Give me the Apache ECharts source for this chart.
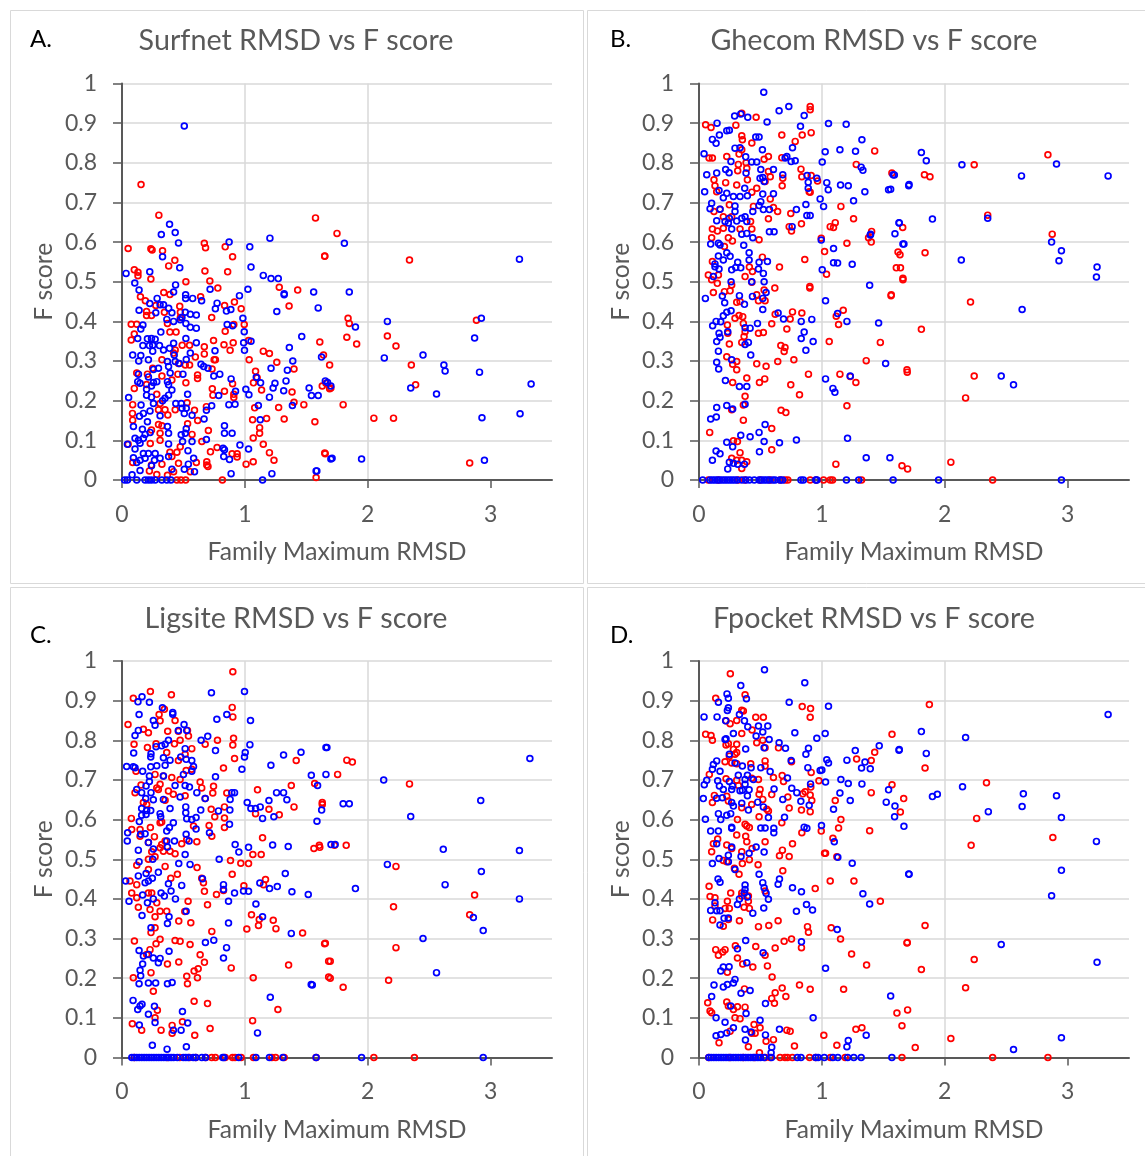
<!DOCTYPE html>
<html><head><meta charset="utf-8">
<style>html,body{margin:0;padding:0;background:#fff}#c{width:1145px;height:1156px}</style>
<script src="https://cdn.jsdelivr.net/npm/echarts@6/dist/echarts.min.js"></script>
</head><body><div id="c"></div>
<script>
const titles=['Surfnet RMSD vs F score','Ghecom RMSD vs F score','Ligsite RMSD vs F score','Fpocket RMSD vs F score'];
const letters=['A.','B.','C.','D.'];
const xTicks=[0,1,2,3];
const xName='Family Maximum RMSD', yName='F score';

const surfnetRed=[[.155,.745],[.30,.668],[1.575,.661],[.67,.597],[.68,.586],[.84,.588],[.05,.584],[.235,.583],[.245,.58],[.33,.578],[.90,.563],[1.65,.564],[.43,.554],[.38,.54],[.10,.53],[.13,.524],[.13,.515],[.675,.527],[.86,.525],[.235,.507],[.52,.50],[.715,.502],[.78,.484],[.34,.473],[.39,.468],[1.28,.486],[1.43,.479],[.15,.462],[.19,.452],[.64,.462],[.915,.449],[.835,.44],[.97,.432],[1.36,.439],[.47,.438],[.20,.425],[.20,.415],[.24,.415],[.275,.44],[.345,.423],[.475,.423],[.475,.41],[.73,.41],[.075,.393],[.12,.393],[.37,.395],[.10,.368],[.075,.353],[.39,.373],[.44,.373],[.84,.375],[.995,.392],[.91,.392],[.745,.352],[1.61,.348],[.49,.34],[.55,.34],[.83,.341],[.905,.346],[1.03,.352],[.67,.336],[.67,.318],[.88,.327],[1.15,.325],[1.20,.319],[1.64,.315],[.75,.303],[.76,.303],[1.035,.303],[1.26,.297],[1.69,.29],[1.40,.28],[.12,.27],[1.087,.274],[.207,.267],[.25,.282],[.325,.303],[.42,.32],[.433,.328],[.46,.294],[.515,.29],[.55,.29],[.597,.31],[.733,.28],[.455,.267],[.325,.262],[.615,.265],[.615,.256],[1.10,.258],[1.66,.244],[1.69,.23],[.52,.245],[.406,.252],[.10,.231],[.20,.241],[.735,.23],[.74,.214],[.834,.224],[.90,.243],[.91,.216],[.91,.208],[1.07,.245],[1.136,.227],[1.384,.222],[1.40,.196],[1.48,.19],[1.08,.182],[1.275,.183],[.087,.19],[.283,.216],[.31,.193],[.53,.195],[.687,.185],[.59,.176],[.297,.177],[.35,.177],[.085,.168],[.087,.151],[.433,.177],[.373,.164],[.616,.15],[1.063,.152],[1.177,.155],[1.32,.154],[1.57,.147],[.534,.142],[.297,.14],[.325,.137],[.24,.126],[.703,.125],[1.12,.132],[1.12,.118],[.57,.115],[1.068,.106],[.31,.118],[.31,.10],[.23,.092],[.65,.097],[1.15,.09],[.05,.09],[.774,.082],[.474,.084],[.447,.07],[.39,.07],[.406,.059],[.72,.071],[1.20,.069],[1.654,.066],[.896,.066],[.937,.066],[.937,.058],[1.237,.05],[1.068,.046],[1.01,.04],[.087,.044],[.46,.042],[.605,.044],[.69,.046],[.69,.038],[.70,.034],[.24,.038],[.325,.04],[.223,.023],[.42,.021],[.556,.021],[.283,.014],[.37,.012],[1.58,.006],[1.75,.622],[1.65,.565],[2.34,.555],[1.84,.408],[1.85,.395],[1.83,.36],[1.91,.343],[2.16,.363],[2.23,.338],[2.355,.29],[2.39,.24],[1.80,.19],[2.05,.156],[2.21,.156],[2.83,.043],[2.885,.403],[1.65,.068],[1.63,.237],[1.70,.232]];
const surfnetRedZero=[.817,.447,.48,.518];
const surfnetBlue=[[.507,.893],[.387,.645],[.433,.624],[.32,.619],[.46,.598],[.33,.563],[.47,.535],[.872,.60],[1.04,.588],[1.204,.61],[1.05,.537],[.033,.521],[.226,.525],[.104,.497],[.139,.479],[.436,.492],[.42,.474],[1.15,.516],[1.213,.508],[1.272,.508],[.717,.481],[1.025,.481],[.518,.467],[.518,.458],[.575,.458],[.648,.452],[.286,.458],[.226,.445],[.139,.428],[.31,.442],[.338,.442],[.38,.433],[.406,.422],[.275,.422],[.956,.465],[.774,.446],[.76,.432],[.85,.426],[.886,.43],[1.32,.47],[1.32,.467],[1.56,.474],[1.597,.434],[1.26,.425],[.515,.423],[.556,.418],[.605,.416],[.488,.41],[.474,.404],[.365,.405],[.42,.40],[.984,.408],[.52,.395],[.856,.392],[.90,.389],[.556,.385],[.605,.383],[.17,.391],[.153,.381],[.316,.373],[.995,.374],[1.463,.362],[.52,.357],[.207,.356],[.24,.357],[.27,.355],[.128,.357],[.17,.339],[.223,.339],[.25,.34],[.305,.339],[.42,.345],[.605,.346],[.99,.346],[1.05,.35],[.997,.327],[1.362,.334],[.25,.325],[.387,.332],[.338,.328],[.556,.32],[.757,.326],[.087,.315],[.153,.314],[.425,.315],[.136,.30],[.215,.303],[.37,.299],[.433,.299],[.466,.294],[.523,.304],[1.624,.31],[1.39,.30],[.643,.292],[.665,.286],[.70,.282],[.297,.282],[.256,.279],[.379,.286],[.392,.27],[.134,.267],[1.213,.282],[1.346,.277],[.496,.267],[.796,.267],[.747,.262],[.215,.26],[.888,.255],[1.093,.259],[1.128,.245],[1.335,.25],[1.673,.246],[.128,.248],[.147,.244],[.256,.246],[.283,.248],[.37,.248],[.379,.24],[1.245,.244],[1.23,.232],[1.008,.229],[1.033,.215],[.924,.224],[1.316,.225],[1.523,.232],[1.542,.213],[1.597,.213],[.20,.229],[.24,.237],[.534,.216],[.406,.227],[.20,.214],[.24,.209],[.054,.208],[.787,.213],[1.20,.209],[.379,.214],[.35,.206],[.33,.20],[.256,.193],[.155,.189],[.438,.193],[.482,.193],[.73,.187],[.87,.19],[.92,.191],[1.11,.188],[1.387,.188],[.488,.181],[.523,.181],[.507,.168],[.174,.168],[.228,.174],[.142,.161],[.31,.162],[.57,.163],[.687,.176],[.668,.154],[1.125,.152],[.093,.135],[.207,.147],[.37,.135],[.379,.118],[.523,.129],[.515,.118],[.482,.114],[.834,.137],[.834,.118],[.896,.118],[.166,.128],[.229,.12],[.106,.105],[.134,.10],[.174,.105],[.188,.115],[.493,.097],[.57,.097],[.687,.102],[.044,.09],[.147,.093],[.379,.091],[.96,.088],[1.03,.078],[.537,.074],[.823,.08],[.834,.076],[.106,.078],[.174,.067],[.215,.067],[.093,.056],[.27,.067],[.31,.055],[.379,.059],[.828,.059],[.875,.052],[.583,.055],[.147,.05],[.188,.055],[.12,.044],[.264,.05],[1.70,.053],[.54,.04],[.507,.027],[.24,.036],[.406,.027],[.147,.024],[.59,.021],[.888,.016],[1.22,.016],[1.586,.023],[.082,.013],[1.81,.597],[1.85,.474],[1.90,.386],[2.16,.40],[2.135,.308],[2.45,.315],[2.62,.29],[2.63,.275],[2.35,.232],[2.56,.217],[2.91,.272],[2.925,.408],[3.235,.557],[3.33,.242],[3.24,.167],[2.93,.157],[2.95,.05],[1.95,.053],[1.71,.055],[1.655,.25],[1.70,.237],[1.58,.023],[2.87,.358]];
const surfnetBlueZero=[.022,.044,.12,.188,.215,.24,.27,.324,.365,.398,1.144];

const ghecomRed=[[.905,.942],[.905,.934],[.348,.925],[.465,.915],[.054,.896],[.098,.889],[.30,.895],[.913,.876],[.674,.87],[.84,.87],[.348,.868],[.353,.858],[.43,.85],[.783,.854],[1.43,.83],[.226,.816],[.326,.822],[.348,.833],[.082,.812],[.109,.812],[.565,.816],[.53,.809],[.674,.813],[.383,.80],[.32,.796],[.315,.78],[.389,.786],[1.28,.796],[1.57,.774],[.83,.784],[.837,.765],[.565,.778],[.58,.765],[.682,.761],[.677,.742],[.122,.757],[.13,.742],[.217,.75],[.307,.744],[.394,.757],[.47,.736],[.538,.753],[.913,.768],[.965,.754],[.897,.727],[.905,.726],[.43,.726],[.144,.727],[.58,.709],[.247,.694],[.122,.677],[.443,.69],[.606,.687],[.64,.677],[1.155,.69],[.747,.672],[.171,.683],[.198,.664],[.266,.664],[.565,.659],[1.258,.659],[1.109,.649],[.834,.646],[1.068,.639],[1.095,.637],[.42,.652],[.43,.633],[.734,.639],[.753,.628],[1.658,.637],[.109,.633],[.15,.628],[.198,.635],[.334,.633],[.103,.611],[.239,.611],[.272,.603],[.489,.606],[.995,.61],[1.38,.611],[1.405,.627],[1.402,.60],[1.204,.597],[.207,.589],[1.022,.576],[1.636,.568],[.109,.551],[.516,.562],[.861,.556],[.41,.537],[.435,.526],[.655,.537],[1.606,.535],[.076,.517],[.103,.505],[.149,.496],[.158,.517],[1.038,.519],[.375,.513],[1.66,.509],[.266,.492],[.253,.477],[.43,.499],[.902,.488],[.902,.484],[.53,.479],[.617,.484],[.117,.473],[.207,.475],[1.563,.465],[.307,.448],[.334,.45],[.47,.467],[.484,.452],[.538,.452],[.62,.418],[.761,.424],[.837,.421],[1.174,.428],[1.117,.413],[1.136,.392],[.293,.408],[.326,.415],[.356,.412],[.742,.406],[.361,.395],[.592,.394],[.231,.391],[.715,.381],[.375,.374],[.367,.362],[.524,.372],[.484,.37],[.234,.37],[.247,.343],[.348,.347],[1.06,.349],[1.476,.347],[.666,.339],[.70,.334],[.693,.324],[.226,.311],[.307,.299],[.274,.292],[.307,.278],[.772,.303],[.641,.299],[.47,.293],[.546,.287],[1.361,.301],[1.693,.278],[.891,.267],[1.147,.267],[.389,.257],[.274,.246],[.535,.255],[.492,.246],[.747,.24],[.818,.215],[1.277,.246],[1.231,.261],[.375,.211],[.361,.189],[1.204,.187],[.668,.176],[.707,.17],[.266,.177],[.361,.151],[.087,.12],[.592,.13],[.28,.099],[.313,.097],[.592,.076],[.334,.069],[.266,.055],[.307,.05],[.348,.05],[.389,.046],[.348,.029],[1.114,.04],[1.652,.036],[1.698,.028],[2.84,.82],[2.24,.795],[2.35,.668],[2.875,.62],[2.21,.449],[2.24,.262],[2.17,.207],[2.05,.045],[1.835,.77],[1.88,.765],[1.84,.573],[1.81,.38],[1.695,.272],[1.62,.575],[1.64,.535],[1.66,.505],[1.565,.467]];
const ghecomRedZero=[.076,.158,.32,.375,.497,.579,.66,.70,.723,.905,.954,1.014,1.068,1.087,1.323,2.39];
const ghecomBlue=[[.527,.978],[.731,.942],[.652,.931],[.856,.919],[.29,.918],[.34,.923],[.397,.915],[.147,.90],[.554,.903],[1.054,.899],[1.198,.897],[.826,.892],[.226,.881],[.247,.882],[.166,.87],[.109,.859],[.139,.849],[.462,.865],[.489,.865],[1.326,.858],[.293,.837],[.334,.838],[.516,.833],[.761,.838],[1.147,.833],[1.274,.829],[1.027,.828],[.041,.823],[.38,.815],[.715,.816],[.701,.812],[.75,.803],[.783,.805],[.26,.803],[.429,.802],[.47,.802],[1.003,.802],[1.32,.789],[1.334,.781],[.503,.783],[.606,.783],[.217,.783],[.245,.775],[.383,.774],[.144,.774],[.063,.77],[.682,.77],[1.59,.769],[.519,.763],[.497,.761],[.53,.753],[.88,.768],[.959,.761],[.889,.751],[.889,.736],[1.04,.75],[1.052,.732],[1.152,.744],[1.215,.742],[1.707,.742],[.372,.736],[.163,.73],[.046,.727],[1.543,.732],[1.35,.727],[.606,.722],[.519,.721],[.226,.723],[.198,.712],[.28,.715],[.334,.715],[.394,.717],[.986,.709],[1.258,.704],[.103,.698],[.09,.684],[.503,.702],[.489,.692],[.87,.695],[.793,.682],[.293,.691],[.293,.677],[1.014,.69],[.524,.682],[.573,.682],[.438,.677],[.878,.667],[.905,.667],[.171,.683],[.247,.66],[.375,.664],[.348,.66],[.307,.653],[.144,.654],[.212,.652],[.239,.648],[.266,.633],[.389,.652],[1.628,.649],[1.595,.621],[.758,.639],[.348,.62],[.389,.622],[.438,.611],[.573,.626],[.611,.626],[1.397,.62],[1.394,.618],[.995,.605],[.095,.595],[.158,.597],[.171,.593],[.364,.592],[1.668,.595],[1.095,.584],[.226,.573],[.408,.573],[.158,.565],[.253,.564],[.198,.555],[.408,.555],[.13,.545],[.557,.551],[.489,.549],[.315,.549],[1.095,.548],[1.128,.547],[1.247,.544],[.13,.538],[.163,.532],[.266,.53],[.299,.536],[.34,.535],[.484,.532],[1.003,.53],[.524,.521],[.117,.513],[.261,.50],[.53,.50],[.429,.50],[1.389,.491],[.546,.473],[.052,.458],[.19,.464],[.329,.465],[.435,.463],[.519,.458],[1.03,.452],[.209,.447],[.37,.443],[.519,.43],[.261,.427],[.226,.423],[.198,.414],[.644,.421],[.688,.406],[1.128,.42],[.177,.399],[.139,.40],[.476,.395],[.832,.40],[.918,.405],[1.204,.40],[1.462,.396],[.111,.389],[.375,.384],[.416,.383],[.234,.374],[.163,.37],[.856,.373],[.832,.357],[.171,.36],[.144,.349],[.402,.347],[.375,.342],[.929,.349],[.158,.325],[.87,.327],[.421,.315],[.266,.303],[.144,.297],[.16,.28],[1.519,.294],[.215,.251],[1.03,.255],[1.231,.262],[.329,.236],[.389,.236],[1.09,.231],[1.106,.221],[.375,.191],[.144,.183],[.226,.188],[.274,.179],[.141,.159],[.095,.154],[.538,.14],[.489,.12],[.416,.109],[.34,.113],[1.209,.105],[.226,.095],[.53,.097],[.655,.094],[.793,.101],[.274,.084],[.139,.073],[.171,.066],[.109,.05],[.492,.071],[1.361,.056],[1.554,.056],[.247,.045],[.28,.042],[.315,.04],[.37,.04],[.234,.028],[2.14,.795],[2.625,.767],[2.91,.797],[3.33,.767],[2.35,.66],[2.87,.60],[2.95,.578],[2.93,.553],[3.24,.537],[3.235,.512],[2.135,.555],[2.63,.43],[2.46,.262],[2.56,.24],[1.90,.658],[1.81,.826],[1.85,.805],[1.71,.745],[1.63,.648],[1.66,.595],[1.56,.733],[1.58,.77]];
const ghecomBlueZero=[.03,.09,.11,.13,.15,.17,.19,.21,.23,.25,.27,.29,.31,.35,.38,.41,.45,.49,.51,.53,.55,.57,.6,.62,.66,.68,.83,.85,.95,.96,1.2,1.3,1.58,1.95,2.95];

const ligsiteRed=[[.902,.973],[.231,.923],[.092,.906],[.402,.915],[.897,.883],[.902,.859],[.345,.878],[.302,.865],[.432,.85],[.049,.84],[.31,.849],[.533,.825],[.459,.823],[.372,.823],[.174,.828],[.215,.819],[.908,.805],[.902,.788],[.541,.811],[.473,.80],[.777,.80],[.677,.79],[.098,.79],[.427,.791],[.277,.791],[.207,.782],[.568,.779],[.364,.769],[.459,.749],[.514,.765],[.916,.754],[1.418,.749],[1.755,.714],[.826,.73],[.522,.724],[.568,.727],[.114,.722],[.269,.714],[.337,.71],[.405,.706],[.473,.701],[.155,.687],[.31,.689],[.296,.676],[.283,.68],[.106,.668],[.636,.695],[.649,.68],[.745,.684],[.739,.667],[1.378,.686],[1.103,.675],[1.568,.691],[.853,.667],[.174,.643],[.201,.638],[.351,.649],[.418,.664],[.514,.66],[.378,.672],[.677,.653],[1.63,.643],[1.4,.632],[.834,.632],[.726,.626],[1.196,.626],[1.087,.615],[1.28,.612],[.076,.603],[.755,.607],[.834,.604],[.31,.592],[.323,.594],[.231,.58],[.079,.575],[.147,.575],[.709,.585],[.834,.58],[.582,.584],[.731,.558],[.264,.557],[.147,.558],[.527,.55],[.609,.544],[1.144,.554],[.215,.542],[.323,.537],[.351,.546],[.486,.539],[1.606,.535],[1.562,.527],[.31,.529],[.391,.52],[.242,.519],[.337,.52],[.432,.514],[.269,.506],[1.065,.512],[1.133,.512],[.215,.5],[.12,.485],[.883,.497],[.967,.49],[1.03,.489],[.351,.482],[.611,.479],[.215,.474],[.451,.462],[.397,.452],[.897,.462],[.065,.445],[.663,.441],[.649,.452],[1.168,.449],[.12,.436],[.079,.415],[.671,.419],[.769,.411],[.826,.421],[.992,.433],[1.152,.436],[.215,.415],[.242,.415],[.12,.403],[.283,.39],[.538,.394],[.696,.385],[.133,.379],[.228,.373],[.31,.369],[.364,.369],[.269,.355],[.511,.368],[1.054,.36],[1.117,.348],[.462,.344],[.56,.34],[.269,.327],[.236,.315],[1.231,.346],[1.111,.333],[1.253,.325],[1.016,.324],[1.47,.314],[.731,.318],[.101,.294],[.31,.298],[.277,.287],[.432,.295],[.473,.293],[.554,.285],[1.649,.287],[.228,.272],[.201,.26],[.636,.259],[.671,.24],[1.682,.243],[1.682,.203],[.37,.236],[.462,.241],[.889,.226],[1.356,.233],[.236,.214],[.62,.224],[.587,.218],[.092,.201],[.527,.205],[.614,.201],[1.068,.201],[.533,.186],[.255,.167],[.587,.142],[.696,.136],[.288,.119],[.269,.10],[1.269,.121],[.084,.085],[.16,.069],[1.063,.093],[.492,.09],[.408,.081],[.717,.073],[.318,.069],[.408,.061],[.592,.056],[1.83,.75],[1.875,.745],[2.34,.69],[1.825,.535],[1.73,.535],[1.61,.53],[2.23,.482],[2.21,.38],[2.23,.277],[2.17,.195],[2.87,.41],[2.83,.36],[1.80,.177],[1.695,.20],[1.695,.243],[1.655,.288],[1.63,.638]];
const ligsiteRedZero=[.1,.37,.47,.55,.6,.68,.73,.76,.84,.9,.92,.97,1.07,1.22,1.25,1.32,1.58,2.05,2.38];
const ligsiteBlue=[[.728,.92],[.997,.923],[.163,.91],[.13,.897],[.223,.896],[.329,.882],[.413,.87],[.413,.866],[.853,.865],[.139,.865],[.772,.853],[1.046,.85],[.255,.85],[.269,.838],[.505,.84],[.459,.825],[.527,.825],[.133,.825],[.106,.812],[.698,.81],[.644,.80],[.378,.80],[.351,.79],[.277,.784],[.323,.786],[1.041,.789],[1.668,.782],[.514,.779],[.761,.774],[.095,.768],[.236,.766],[.234,.758],[1.003,.769],[.997,.758],[1.315,.763],[1.457,.77],[.478,.758],[.522,.752],[.337,.756],[.391,.75],[.568,.749],[.038,.734],[.092,.733],[.106,.731],[.234,.733],[.283,.736],[.351,.737],[.582,.734],[1.212,.737],[.976,.727],[.168,.722],[.568,.722],[1.541,.712],[.223,.71],[.337,.71],[.5,.714],[.761,.708],[.223,.696],[.196,.685],[.432,.686],[.514,.686],[.549,.682],[1.592,.686],[.12,.676],[.16,.668],[.236,.668],[.609,.668],[.894,.668],[.916,.668],[.88,.651],[1.258,.668],[1.315,.668],[1.342,.65],[.193,.653],[.255,.65],[.337,.651],[.473,.657],[.677,.653],[1.196,.648],[1.019,.643],[.16,.628],[.234,.623],[.201,.623],[.196,.613],[.391,.628],[.519,.632],[.519,.617],[.641,.624],[.785,.622],[.878,.624],[1.049,.628],[1.087,.628],[1.125,.632],[1.625,.624],[1.587,.596],[.31,.615],[.315,.607],[.16,.611],[.527,.602],[.568,.6],[.603,.605],[1.144,.603],[1.236,.607],[.875,.588],[.418,.592],[.386,.58],[.364,.571],[.141,.595],[.603,.576],[.712,.567],[.046,.567],[.152,.563],[.188,.564],[.522,.563],[.043,.546],[.364,.546],[.427,.546],[.546,.546],[.215,.542],[.921,.537],[1.03,.53],[1.226,.536],[1.353,.532],[1.701,.537],[.37,.531],[.255,.526],[.133,.523],[.951,.518],[.514,.512],[.25,.5],[.791,.5],[.139,.494],[.462,.489],[.554,.487],[.296,.467],[.196,.464],[.133,.458],[1.329,.464],[.03,.445],[.247,.452],[.215,.445],[.188,.441],[.655,.451],[.378,.438],[.486,.434],[.826,.436],[.826,.424],[1.122,.44],[1.201,.426],[1.264,.431],[.399,.42],[.318,.415],[.345,.407],[.168,.41],[.255,.4],[.207,.39],[.057,.394],[.435,.40],[.916,.415],[.989,.42],[1.03,.419],[1.383,.418],[1.516,.411],[.867,.394],[1.09,.387],[.522,.369],[.163,.358],[.383,.355],[1.144,.355],[.37,.338],[.867,.339],[.236,.327],[1.378,.313],[.747,.296],[.679,.29],[.851,.277],[.139,.27],[.383,.268],[.174,.256],[.215,.26],[.255,.251],[.31,.25],[.296,.239],[.168,.236],[.826,.251],[.147,.22],[.152,.206],[.139,.186],[.215,.188],[.274,.188],[.37,.186],[.408,.189],[1.549,.183],[1.207,.152],[.09,.144],[.163,.134],[.128,.121],[.147,.13],[.264,.129],[.492,.116],[.215,.109],[.269,.088],[.535,.087],[.141,.082],[.418,.069],[.481,.069],[1.103,.062],[.247,.031],[.524,.027],[.367,.021],[3.32,.754],[3.235,.522],[3.235,.40],[2.92,.648],[2.925,.469],[2.94,.32],[2.35,.608],[2.16,.487],[2.13,.70],[2.615,.525],[2.63,.436],[2.45,.30],[2.56,.214],[2.86,.353],[1.90,.426],[1.80,.64],[1.85,.64],[1.66,.714],[1.66,.782],[1.735,.537],[1.54,.184]];
const ligsiteBlueZero=[.08,.1,.12,.14,.16,.18,.2,.22,.24,.26,.28,.3,.32,.34,.36,.38,.4,.42,.45,.5,.52,.54,.58,.6,.65,.68,.82,.83,.95,1.09,1.2,1.31,1.58,1.95,2.94];

const fpocketRed=[[.255,.968],[.375,.915],[.136,.906],[.84,.885],[.908,.88],[.905,.858],[.348,.876],[.361,.874],[.307,.85],[.22,.849],[.253,.842],[.462,.858],[.524,.858],[.054,.815],[.098,.812],[.109,.80],[.348,.817],[.432,.826],[1.571,.815],[.519,.80],[.47,.794],[.538,.781],[.307,.79],[.239,.791],[.22,.788],[.647,.781],[.28,.777],[.293,.765],[.307,.769],[1.43,.77],[.247,.76],[.212,.746],[.266,.743],[.538,.748],[.538,.735],[.421,.741],[.307,.741],[.753,.746],[1.283,.753],[1.402,.749],[.084,.714],[.22,.703],[.307,.699],[.321,.686],[.484,.701],[.429,.704],[.606,.706],[.677,.711],[.688,.696],[.913,.719],[.976,.698],[1.571,.688],[.125,.661],[.226,.659],[.109,.643],[.497,.676],[.489,.664],[.519,.651],[.592,.663],[.723,.657],[.91,.682],[.864,.67],[.845,.665],[.905,.662],[.918,.648],[1.402,.668],[1.109,.648],[1.666,.653],[1.639,.619],[.239,.647],[.348,.63],[.429,.638],[.552,.626],[.565,.622],[.734,.629],[.834,.624],[.905,.62],[.313,.60],[.489,.607],[.674,.592],[1.155,.60],[1.136,.579],[1.389,.572],[.375,.588],[.41,.58],[.389,.584],[.837,.567],[.995,.571],[.307,.561],[.38,.558],[.152,.551],[.117,.539],[.389,.544],[.538,.544],[1.09,.553],[.761,.539],[.226,.536],[.266,.527],[.103,.519],[.348,.519],[.679,.523],[.655,.509],[.432,.527],[.734,.507],[1.03,.515],[1.022,.515],[1.122,.506],[.198,.497],[.226,.494],[.41,.499],[.353,.489],[.481,.486],[.288,.477],[.326,.462],[.682,.471],[1.068,.445],[1.261,.445],[.082,.432],[.946,.426],[.348,.415],[.348,.407],[.258,.415],[.538,.42],[.09,.406],[.13,.403],[.231,.394],[.402,.394],[.402,.407],[1.476,.394],[.13,.382],[.247,.376],[.212,.376],[.367,.379],[.41,.376],[.111,.347],[.239,.348],[.329,.345],[.644,.345],[.198,.331],[.484,.33],[.568,.333],[.883,.33],[.891,.316],[1.076,.327],[1.152,.299],[1.693,.289],[.693,.293],[.753,.299],[.834,.277],[.296,.282],[.462,.28],[.136,.272],[.158,.258],[.193,.266],[.212,.272],[.62,.276],[.313,.251],[.356,.236],[.538,.258],[1.242,.261],[.438,.228],[.557,.231],[1.364,.233],[.231,.215],[.595,.203],[.818,.183],[.905,.172],[.677,.175],[.707,.154],[.37,.173],[1.177,.172],[.62,.163],[.592,.149],[.614,.137],[.071,.138],[.226,.14],[.239,.13],[.313,.128],[.375,.127],[.09,.117],[.103,.113],[.28,.121],[.293,.10],[.334,.098],[1.698,.12],[1.611,.112],[.448,.083],[.497,.075],[1.652,.08],[1.277,.071],[1.326,.075],[.715,.069],[.742,.066],[.429,.061],[.457,.061],[.253,.066],[1.016,.056],[.163,.037],[.606,.045],[.546,.041],[.402,.027],[.777,.029],[1.122,.031],[.492,.012],[1.875,.89],[1.84,.73],[2.215,.535],[2.26,.603],[2.34,.693],[2.88,.555],[2.24,.247],[2.17,.176],[1.84,.333],[1.81,.222],[1.695,.29],[2.05,.048],[1.76,.025]];
const fpocketRedZero=[.08,.25,.36,.45,.54,.58,.66,.7,.72,.76,.9,.95,1.07,1.19,1.652,2.39,2.84];
const fpocketBlue=[[.533,.978],[.861,.945],[.34,.938],[.228,.917],[.239,.906],[.386,.905],[.158,.896],[.734,.896],[1.054,.886],[.239,.882],[.231,.875],[.329,.865],[.041,.859],[.147,.859],[.217,.849],[.37,.849],[.397,.834],[.484,.836],[.56,.836],[.519,.821],[.28,.817],[.78,.819],[1.027,.817],[.465,.811],[.571,.802],[.959,.805],[.22,.804],[.212,.802],[.652,.794],[.53,.781],[.704,.78],[.38,.778],[.891,.78],[.87,.765],[1.272,.774],[1.467,.786],[1.628,.775],[.247,.765],[.144,.748],[.75,.749],[1.04,.751],[1.054,.743],[1.204,.75],[1.351,.745],[.117,.739],[.109,.727],[.171,.722],[.293,.743],[.353,.735],[.424,.731],[.503,.731],[.886,.731],[.986,.724],[1.0,.725],[1.323,.73],[1.394,.728],[.579,.721],[.32,.712],[.394,.712],[.063,.699],[.043,.688],[.152,.698],[.166,.685],[.247,.696],[.375,.701],[.443,.701],[.72,.705],[1.155,.701],[1.215,.691],[1.326,.69],[1.03,.695],[.908,.69],[.272,.685],[.198,.676],[.266,.676],[.375,.689],[.353,.674],[.408,.675],[1.543,.675],[.611,.677],[.755,.679],[.796,.668],[1.147,.667],[.035,.653],[.144,.654],[.19,.655],[.334,.673],[.394,.66],[.682,.651],[.829,.646],[1.231,.648],[1.524,.644],[.478,.644],[.348,.641],[.266,.643],[.897,.636],[.524,.632],[.28,.634],[1.595,.634],[1.095,.626],[.402,.624],[.226,.611],[.258,.615],[.158,.615],[.177,.60],[.052,.601],[1.592,.607],[1.668,.583],[.565,.605],[.696,.606],[.095,.571],[.158,.571],[.266,.581],[.266,.578],[.503,.579],[.538,.579],[.609,.578],[.609,.567],[.856,.581],[.878,.578],[.997,.585],[1.101,.544],[.144,.539],[.266,.531],[.465,.531],[.239,.51],[.408,.515],[.53,.518],[.163,.502],[.342,.507],[1.13,.505],[1.247,.49],[.109,.489],[.239,.494],[.293,.474],[.489,.462],[1.707,.463],[.155,.45],[.171,.442],[.519,.441],[.53,.428],[.655,.45],[.644,.437],[.375,.435],[.375,.424],[.37,.415],[.761,.428],[.834,.418],[.546,.414],[1.334,.413],[.329,.40],[.394,.405],[.565,.399],[.13,.39],[.313,.386],[.875,.386],[1.389,.387],[.095,.371],[.144,.37],[.171,.37],[.527,.377],[.924,.372],[.793,.369],[.438,.364],[.204,.351],[.239,.352],[.171,.334],[1.125,.323],[.38,.295],[.834,.292],[.313,.274],[.522,.264],[.389,.239],[.198,.228],[.245,.229],[.177,.218],[1.03,.225],[.293,.197],[.28,.188],[.231,.184],[.198,.178],[.122,.183],[.416,.169],[.342,.162],[1.56,.155],[.103,.154],[.541,.136],[.258,.13],[.383,.111],[.139,.10],[.929,.10],[.212,.089],[.497,.094],[.28,.075],[.375,.071],[.655,.071],[.424,.064],[.226,.062],[.139,.055],[.177,.058],[.541,.057],[1.361,.056],[.378,.044],[1.215,.043],[1.204,.027],[.592,.026],[.587,.012],[3.33,.865],[3.235,.545],[3.24,.24],[2.95,.05],[2.95,.605],[2.95,.472],[2.91,.66],[2.87,.408],[2.64,.665],[2.63,.633],[2.355,.62],[2.145,.683],[2.17,.807],[2.46,.285],[2.56,.02],[1.9,.658],[1.94,.664],[1.81,.822],[1.85,.767],[1.71,.462],[1.63,.777]];
const fpocketBlueZero=[.08,.1,.12,.14,.16,.18,.2,.22,.24,.26,.28,.3,.32,.34,.36,.38,.4,.42,.44,.46,.48,.5,.53,.59,.8,.83,.95,.97,1.02,1.09,1.13,1.21,1.26,1.32,1.57];

const panelPoints=[
 [surfnetRed,surfnetRedZero,surfnetBlue,surfnetBlueZero],
 [ghecomRed,ghecomRedZero,ghecomBlue,ghecomBlueZero],
 [ligsiteRed,ligsiteRedZero,ligsiteBlue,ligsiteBlueZero],
 [fpocketRed,fpocketRedZero,fpocketBlue,fpocketBlueZero]
];
const FONT='Lato, "Open Sans", sans-serif', GREY='#595959';
const layout=[
 {l:122,t:83.5,cx:291,ty:21.5,lx:30,ly:27,box:[10,10,573,573]},
 {l:699,t:83.5,cx:869,ty:21.5,lx:610,ly:27,box:[587,10,560,573]},
 {l:122,t:661,cx:291,ty:599.5,lx:30,ly:623,box:[10,587,573,571]},
 {l:699,t:661,cx:869,ty:599.5,lx:610,ly:623,box:[587,587,560,571]}
];
const W=430,H=396.5;
const grid=[],xAxis=[],yAxis=[],series=[],title=[],graphic=[];
layout.forEach((p,i)=>{
 graphic.push({type:'rect',silent:true,z:-1,shape:{x:p.box[0]+.5,y:p.box[1]+.5,width:p.box[2],height:p.box[3]},style:{fill:'#fff',stroke:'#d9d9d9',lineWidth:1}});
 graphic.push({type:'text',silent:true,left:p.lx,top:p.ly,style:{text:letters[i],fontFamily:FONT,fontSize:24,fill:'#000'}});
 title.push({text:titles[i],left:p.cx,top:p.ty,textAlign:'center',textStyle:{fontFamily:FONT,fontSize:28.7,fontWeight:'normal',color:GREY}});
 grid.push({left:p.l,top:p.t,width:W,height:H,containLabel:false});
 xAxis.push({gridIndex:i,type:'value',min:0,max:3.5,interval:1,name:xName,nameLocation:'middle',nameGap:60,
  nameTextStyle:{fontFamily:FONT,fontSize:24.6,color:GREY},
  axisLine:{show:true,onZero:false,lineStyle:{color:GREY,width:2}},
  axisTick:{show:true,length:8,customValues:xTicks,lineStyle:{color:GREY,width:1.5}},
  axisLabel:{customValues:xTicks,margin:23,fontFamily:FONT,fontSize:23,color:GREY},
  splitLine:{show:true,showMaxLine:false,lineStyle:{color:'#d9d9d9',width:1.5}}});
 yAxis.push({gridIndex:i,type:'value',min:0,max:1,interval:.1,name:yName,nameLocation:'middle',nameGap:65,nameRotate:90,
  nameTextStyle:{fontFamily:FONT,fontSize:24.6,color:GREY},
  axisLine:{show:true,onZero:false,lineStyle:{color:GREY,width:2}},
  axisTick:{show:true,length:9,lineStyle:{color:GREY,width:1.5}},
  axisLabel:{margin:25,fontFamily:FONT,fontSize:23,color:GREY},
  splitLine:{show:true,lineStyle:{color:'#d9d9d9',width:1.5}}});
 const [r,rz,b,bz]=panelPoints[i];
 [[r,rz,'#ff0000'],[b,bz,'#0000ff']].forEach(([pts,zero,col])=>{
  series.push({type:'scatter',xAxisIndex:i,yAxisIndex:i,symbol:'circle',symbolSize:5.8,clip:false,
   itemStyle:{color:'rgba(0,0,0,0)',borderColor:col,borderWidth:1.7,opacity:1},
   data:pts.concat(zero.map(x=>[x,0]))});
 });
});
const chart=echarts.init(document.getElementById('c'),null,{renderer:'canvas'});
chart.setOption({animation:false,backgroundColor:'#fff',title,grid,xAxis,yAxis,series,graphic});
</script></body></html>
